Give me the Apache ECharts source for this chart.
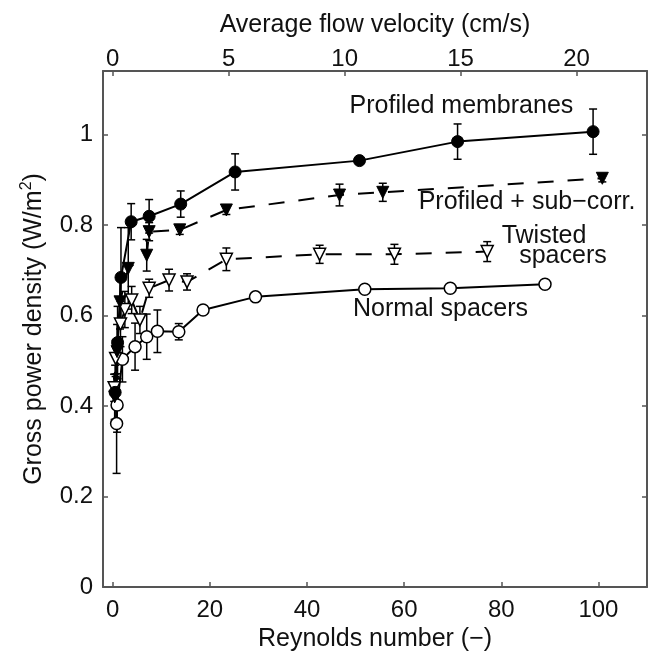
<!DOCTYPE html>
<html><head><meta charset="utf-8">
<script src="https://cdn.jsdelivr.net/npm/echarts@6/dist/echarts.min.js"></script>
<style>html,body{margin:0;padding:0;background:#fff}#c{width:648px;height:657px}</style>
</head><body><div id="c"></div>
<script>
// ---- data ----
const reTicks = [0, 20, 40, 60, 80, 100];
const velTicks = [0, 5, 10, 15, 20];
const gpdTicks = [0, 0.2, 0.4, 0.6, 0.8, 1];

const reProfiled  = [0.5, 1.0, 1.7, 3.8, 7.5, 14.0, 25.2, 50.8, 71.0, 98.9];
const gpdProfiled = [0.43, 0.54, 0.684, 0.807, 0.819, 0.846, 0.917, 0.942, 0.984, 1.006];
const errProfiled = [0.06, 0.08, 0.11, 0.04, 0.037, 0.029, 0.04, 0.008, 0.039, 0.05];

const reSubCorr  = [0.4, 0.9, 1.5, 3.2, 7.0, 7.5, 13.8, 23.4, 46.7, 55.6, 100.8];
const gpdSubCorr = [0.42, 0.52, 0.63, 0.704, 0.733, 0.785, 0.789, 0.833, 0.866, 0.872, 0.903];
const errSubCorr = [0.05, 0.06, 0.06, 0.09, 0.035, 0.02, 0.01, 0.01, 0.024, 0.02, 0.008];

const reTwisted  = [0.3, 0.6, 1.6, 2.5, 3.9, 5.6, 7.5, 11.6, 15.3, 23.4, 42.6, 58.0, 77.1];
const gpdTwisted = [0.44, 0.505, 0.581, 0.613, 0.634, 0.590, 0.660, 0.678, 0.674, 0.724, 0.735, 0.735, 0.741];
const errTwisted = [0.03, 0.04, 0.05, 0.04, 0.03, 0.03, 0.02, 0.024, 0.018, 0.025, 0.02, 0.022, 0.022];

const reNormal  = [0.8, 0.9, 2.0, 4.6, 7.0, 9.2, 13.6, 18.6, 29.4, 51.9, 69.5, 89.0];
const gpdNormal = [0.361, 0.402, 0.503, 0.531, 0.553, 0.565, 0.564, 0.612, 0.641, 0.658, 0.660, 0.669];
const errNormal = [0.11, 0.06, 0.05, 0.052, 0.05, 0.047, 0.018, 0.008, 0.005, 0.005, 0.005, 0.005];

// Reynolds number per cm/s of average flow velocity (top axis conversion)
const RE_PER_VEL = 95.5 / 20;

// annotation anchors (data coordinates)
const labelAnchors = [
  {text: 'Profiled membranes', re: 71.8, gpd: 1.063},
  {text: 'Profiled + sub\u2212corr.', re: 85.3, gpd: 0.851},
  {text: 'Twisted', re: 88.8, gpd: 0.776},
  {text: 'spacers', re: 92.7, gpd: 0.731},
  {text: 'Normal spacers', re: 67.5, gpd: 0.613}
];

// ---- chart ----
const FONT = 'Liberation Sans, Arial, Helvetica, sans-serif';
const AX = '#555';
const chart = echarts.init(document.getElementById('c'), null, {renderer: 'canvas'});

function pairs(re, y) { return re.map((r, i) => [r, y[i]]); }
function bars(re, y, e) { return re.map((r, i) => [r, y[i] - e[i], y[i] + e[i]]); }

function errorRender(params, api) {
  const x = api.value(0), lo = api.value(1), hi = api.value(2);
  const pLo = api.coord([x, lo]), pHi = api.coord([x, hi]);
  const cap = 4;
  const style = {stroke: '#000', lineWidth: 1.5, fill: null};
  return {type: 'group', children: [
    {type: 'line', shape: {x1: pLo[0], y1: pLo[1], x2: pHi[0], y2: pHi[1]}, style: style},
    {type: 'line', shape: {x1: pLo[0] - cap, y1: pLo[1], x2: pLo[0] + cap, y2: pLo[1]}, style: style},
    {type: 'line', shape: {x1: pHi[0] - cap, y1: pHi[1], x2: pHi[0] + cap, y2: pHi[1]}, style: style}
  ]};
}

function errSeries(re, y, e) {
  return {type: 'custom', xAxisIndex: 0, yAxisIndex: 0, renderItem: errorRender,
    encode: {x: 0, y: [1, 2]}, data: bars(re, y, e), z: 2, silent: true, clip: false};
}
function lineSeries(name, re, y, opts) {
  return Object.assign({
    name: name, type: 'line', xAxisIndex: 0, yAxisIndex: 0, data: pairs(re, y),
    symbolSize: 12, z: 3, silent: true, animation: false,
    lineStyle: {color: '#000', width: 2}
  }, opts);
}

const tickLabel = {fontFamily: FONT, fontSize: 24, color: '#111'};

const option = {
  animation: false,
  backgroundColor: '#fff',
  grid: {left: 103, right: 1, top: 71, bottom: 70, containLabel: false},
  xAxis: [
    {type: 'value', position: 'bottom', min: -2, max: 110,
      name: 'Reynolds number (\u2212)', nameLocation: 'middle', nameGap: 39,
      nameTextStyle: {fontFamily: FONT, fontSize: 25, color: '#111'},
      axisLine: {onZero: false, lineStyle: {color: AX, width: 2}},
      axisTick: {inside: true, length: 5, customValues: reTicks, lineStyle: {color: AX, width: 1.5}},
      axisLabel: Object.assign({customValues: reTicks, margin: 11}, tickLabel),
      splitLine: {show: false}},
    {type: 'value', position: 'top', min: -2 / RE_PER_VEL, max: 110 / RE_PER_VEL,
      name: 'Average flow velocity (cm/s)', nameLocation: 'middle', nameGap: 33,
      nameTextStyle: {fontFamily: FONT, fontSize: 25, color: '#111'},
      axisLine: {onZero: false, lineStyle: {color: AX, width: 2}},
      axisTick: {inside: true, length: 5, customValues: velTicks, lineStyle: {color: AX, width: 1.5}},
      axisLabel: Object.assign({customValues: velTicks, margin: 0}, tickLabel),
      splitLine: {show: false}}
  ],
  yAxis: [
    {type: 'value', position: 'left', min: 0, max: 1.14,
      name: 'Gross power density (W/m{sup|2})', nameLocation: 'middle', nameGap: 42, nameRotate: 90,
      nameTextStyle: {fontFamily: FONT, fontSize: 25, color: '#111', lineHeight: 30,
        rich: {sup: {fontFamily: FONT, fontSize: 16, color: '#111', verticalAlign: 'top', lineHeight: 30, padding: [0, 0, 10, 0]}}},
      axisLine: {onZero: false, lineStyle: {color: AX, width: 2}},
      axisTick: {inside: true, length: 5, customValues: gpdTicks, lineStyle: {color: AX, width: 1.5}},
      axisLabel: Object.assign({customValues: gpdTicks, margin: 10,
        formatter: v => String(Math.round(v * 10) / 10)}, tickLabel),
      splitLine: {show: false}},
    {type: 'value', position: 'right', min: 0, max: 1.14,
      axisLine: {show: true, onZero: false, lineStyle: {color: AX, width: 2}},
      axisTick: {show: true, inside: true, length: 5, customValues: gpdTicks, lineStyle: {color: AX, width: 1.5}},
      axisLabel: {show: false},
      splitLine: {show: false}}
  ],
  series: [
    errSeries(reNormal, gpdNormal, errNormal),
    errSeries(reTwisted, gpdTwisted, errTwisted),
    errSeries(reSubCorr, gpdSubCorr, errSubCorr),
    errSeries(reProfiled, gpdProfiled, errProfiled),
    lineSeries('Normal spacers', reNormal, gpdNormal, {symbol: 'circle',
      itemStyle: {color: '#fff', borderColor: '#000', borderWidth: 1.5}}),
    lineSeries('Twisted spacers', reTwisted, gpdTwisted, {symbol: 'triangle', symbolRotate: 180,
      itemStyle: {color: '#fff', borderColor: '#000', borderWidth: 1.5},
      lineStyle: {color: '#000', width: 2, type: [16, 14]}}),
    lineSeries('Profiled + sub-corr.', reSubCorr, gpdSubCorr, {symbol: 'triangle', symbolRotate: 180,
      itemStyle: {color: '#000', borderColor: '#000', borderWidth: 1},
      lineStyle: {color: '#000', width: 2, type: [16, 14]}}),
    lineSeries('Profiled membranes', reProfiled, gpdProfiled, {symbol: 'circle',
      itemStyle: {color: '#000', borderColor: '#000', borderWidth: 1}})
  ]
};
chart.setOption(option);

const graphics = labelAnchors.map(a => {
  const p = chart.convertToPixel({xAxisIndex: 0, yAxisIndex: 0}, [a.re, a.gpd]);
  return {type: 'text', x: p[0], y: p[1], z: 10, silent: true,
    style: {text: a.text, fontFamily: FONT, fontSize: 25, fill: '#111',
      textAlign: 'center', textVerticalAlign: 'middle'}};
});
chart.setOption({graphic: graphics});
</script>
</body></html>
